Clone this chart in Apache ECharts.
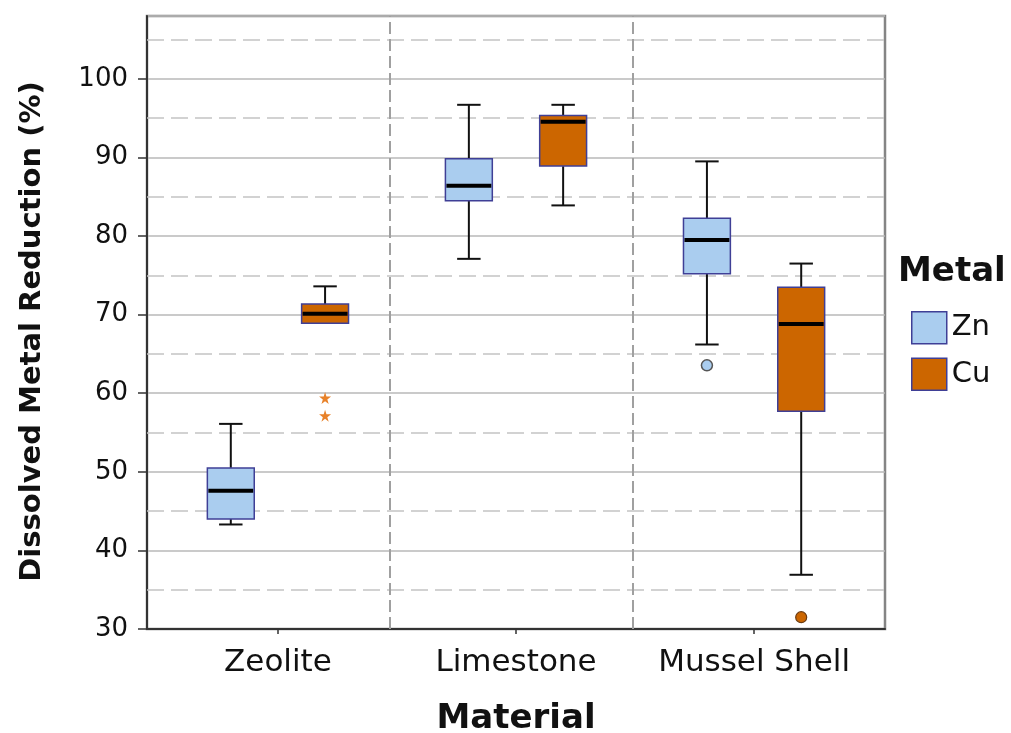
<!DOCTYPE html>
<html>
<head>
<meta charset="utf-8">
<script src="https://cdn.jsdelivr.net/npm/echarts@6/dist/echarts.min.js"></script>
<style>html,body{margin:0;padding:0;background:#fff;}#c{width:1011px;height:733px;}</style>
</head>
<body>
<div id="c"></div>
<script>
// ---- data ----
const categories = ['Zeolite', 'Limestone', 'Mussel Shell'];
const seriesNames = ['Zn', 'Cu'];
// [whisker low, Q1, median, Q3, whisker high] per category
const znStats = [[43.3, 44.0, 47.6, 50.5, 56.1], [77.1, 84.5, 86.4, 89.85, 96.7], [66.2, 75.2, 79.5, 82.25, 89.5]];
const cuStats = [[68.9, 68.9, 70.1, 71.35, 73.6], [83.9, 88.9, 94.55, 95.35, 96.7], [36.9, 57.7, 68.8, 73.5, 76.5]];
// outliers: [category index, value]
const znOutliers = [[2, 63.55]];
const cuOutliers = [[2, 31.5]];
const cuExtremes = [[0, 59.4], [0, 57.15]];
const yTicks = [30, 40, 50, 60, 70, 80, 90, 100];
const yMinorLines = [35, 45, 55, 65, 75, 85, 95, 105];
const groupSeparators = [0.47, 1.49];

// ---- layout constants (category units) ----
const OFFSET = 0.198;
const BOX_W = 0.197;
const ZN_FILL = '#aacdef', CU_FILL = '#cc6600', BOX_BORDER = '#3f3f96';
const FONT = 'DejaVu Sans';

function toBoxData(stats, sign) {
  return stats.map((s, i) => [i + sign * OFFSET].concat(s));
}
function toPoints(arr, sign) {
  return arr.map(p => [p[0] + sign * OFFSET, p[1]]);
}

function renderBox(params, api) {
  const x = api.value(0);
  const lo = api.value(1), q1 = api.value(2), med = api.value(3), q3 = api.value(4), hi = api.value(5);
  const w = api.size([BOX_W, 0])[0];
  const cap = w * 0.5;
  const c = api.coord([x, med])[0];
  const y = v => api.coord([x, v])[1];
  const fill = api.visual('color');
  const wl = { stroke: '#111', lineWidth: 2 };
  const ch = [];
  if (hi > q3) {
    ch.push({ type: 'line', shape: { x1: c, y1: y(hi), x2: c, y2: y(q3) }, style: wl });
    ch.push({ type: 'line', shape: { x1: c - cap / 2, y1: y(hi), x2: c + cap / 2, y2: y(hi) }, style: wl });
  }
  if (lo < q1) {
    ch.push({ type: 'line', shape: { x1: c, y1: y(lo), x2: c, y2: y(q1) }, style: wl });
    ch.push({ type: 'line', shape: { x1: c - cap / 2, y1: y(lo), x2: c + cap / 2, y2: y(lo) }, style: wl });
  }
  ch.push({ type: 'rect', shape: { x: c - w / 2, y: y(q3), width: w, height: y(q1) - y(q3) },
    style: { fill: fill, stroke: BOX_BORDER, lineWidth: 1.5 } });
  ch.push({ type: 'line', shape: { x1: c - w / 2 + 1, y1: y(med), x2: c + w / 2 - 1, y2: y(med) },
    style: { stroke: '#000', lineWidth: 4 } });
  return { type: 'group', children: ch };
}

const starPath = 'path://M50,0 L61,35 L98,35 L68,57 L79,91 L50,70 L21,91 L32,57 L2,35 L39,35 Z';

const chart = echarts.init(document.getElementById('c'), null, { renderer: 'canvas' });
chart.setOption({
  animation: false,
  backgroundColor: '#fff',
  textStyle: { fontFamily: FONT },
  title: {
    text: 'Metal', left: 898, top: 255, padding: 0,
    textStyle: { fontFamily: FONT, fontSize: 34, fontWeight: 'bold', color: '#111' }
  },
  legend: {
    orient: 'vertical', left: 911, top: 311, padding: 0,
    itemWidth: 35, itemHeight: 32, itemGap: 13,
    textStyle: { fontFamily: FONT, fontSize: 29, color: '#111', padding: [0, 0, 0, 0] },
    data: [
      { name: seriesNames[0], icon: 'rect', itemStyle: { color: ZN_FILL, borderColor: BOX_BORDER, borderWidth: 1.5 } },
      { name: seriesNames[1], icon: 'rect', itemStyle: { color: CU_FILL, borderColor: BOX_BORDER, borderWidth: 1.5 } }
    ]
  },
  grid: {
    left: 147, right: 126, top: 16, bottom: 104,
    outerBoundsMode: 'none', containLabel: false,
    show: true, borderColor: '#858585', borderWidth: 2.5, backgroundColor: '#fff'
  },
  xAxis: {
    type: 'value', min: -0.55, max: 2.55,
    name: 'Material', nameLocation: 'middle', nameGap: 73,
    nameTextStyle: { fontFamily: FONT, fontSize: 34, fontWeight: 'bold', color: '#111' },
    axisLine: { show: true, onZero: false, lineStyle: { color: '#333', width: 2 } },
    axisTick: { show: true, length: 5, customValues: [0, 1, 2], lineStyle: { color: '#333', width: 1.5 } },
    axisLabel: {
      customValues: [0, 1, 2], margin: 18,
      fontFamily: FONT, fontSize: 31, color: '#111',
      formatter: v => categories[Math.round(v)]
    },
    splitLine: { show: false }
  },
  yAxis: {
    type: 'value', min: 30, max: 108, interval: 10,
    name: 'Dissolved Metal Reduction (%)', nameLocation: 'middle', nameGap: 100,
    nameTextStyle: { fontFamily: FONT, fontSize: 29, fontWeight: 'bold', color: '#111', padding: [0, 18, 0, 0] },
    axisLine: { show: true, onZero: false, lineStyle: { color: '#333', width: 2 } },
    axisTick: { show: true, length: 9, lineStyle: { color: '#333', width: 1.5 } },
    axisLabel: { margin: 19, fontFamily: FONT, fontSize: 26, color: '#111', showMaxLabel: false,
      formatter: v => (yTicks.indexOf(v) >= 0 ? String(v) : '') },
    splitLine: { show: true, lineStyle: { color: '#b8b8b8', width: 1.5 } }
  },
  series: [
    {
      name: 'grid-helper', type: 'scatter', data: [], silent: true,
      markLine: {
        silent: true, symbol: 'none', z: 1, label: { show: false },
        data: yMinorLines.map(v => ({ yAxis: v, lineStyle: { color: '#c4c4c4', width: 1.5, type: [17, 7] } }))
          .concat(groupSeparators.map(v => ({ xAxis: v, lineStyle: { color: '#a0a0a0', width: 2, type: [12, 5] } })))
      }
    },
    {
      name: seriesNames[0], type: 'custom', z: 10,
      itemStyle: { color: ZN_FILL },
      encode: { x: 0, y: [1, 2, 3, 4, 5] },
      renderItem: renderBox,
      data: toBoxData(znStats, -1)
    },
    {
      name: seriesNames[1], type: 'custom', z: 10,
      itemStyle: { color: CU_FILL },
      encode: { x: 0, y: [1, 2, 3, 4, 5] },
      renderItem: renderBox,
      data: toBoxData(cuStats, 1)
    },
    {
      name: 'Zn outliers', type: 'scatter', z: 11, symbol: 'circle', symbolSize: 11,
      itemStyle: { color: ZN_FILL, borderColor: '#555', borderWidth: 1.5, opacity: 1 },
      data: toPoints(znOutliers, -1)
    },
    {
      name: 'Cu outliers', type: 'scatter', z: 11, symbol: 'circle', symbolSize: 11,
      itemStyle: { color: CU_FILL, borderColor: '#6b3a10', borderWidth: 1.2, opacity: 1 },
      data: toPoints(cuOutliers, 1)
    },
    {
      name: 'Cu extremes', type: 'scatter', z: 11, symbol: starPath, symbolSize: 12,
      itemStyle: { color: '#e8822a', opacity: 1 },
      data: toPoints(cuExtremes, 1)
    }
  ]
});
</script>
</body>
</html>
